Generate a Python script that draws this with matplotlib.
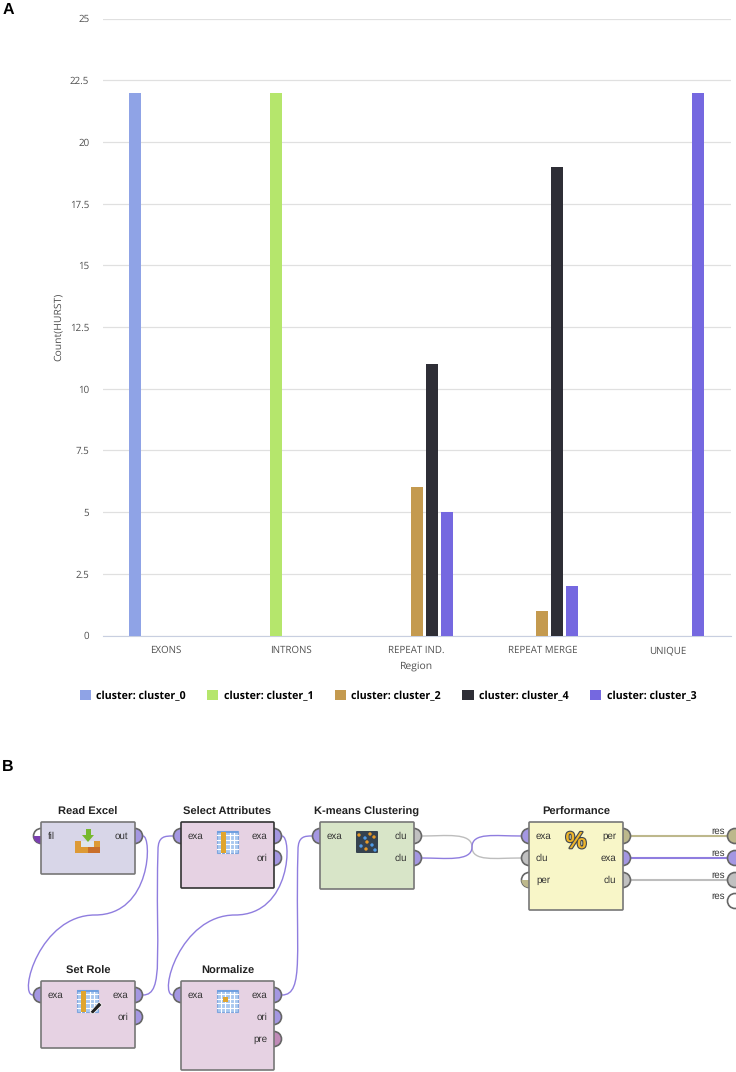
import matplotlib
matplotlib.use("Agg")
import matplotlib.pyplot as plt
import matplotlib.patheffects as pe
from matplotlib.patches import Circle, FancyBboxPatch, PathPatch, Polygon, Rectangle
from matplotlib.path import Path
import numpy as np

# chart data
regions = ["EXONS", "INTRONS", "REPEAT IND.", "REPEAT MERGE", "UNIQUE"]
cluster_names = ["cluster_0", "cluster_1", "cluster_2", "cluster_4", "cluster_3"]
cluster_0 = [22, 0, 0, 0, 0]
cluster_1 = [0, 22, 0, 0, 0]
cluster_2 = [0, 0, 6, 1, 0]
cluster_4 = [0, 0, 11, 19, 0]
cluster_3 = [0, 0, 5, 2, 22]
y_ticks = [0, 2.5, 5, 7.5, 10, 12.5, 15, 17.5, 20, 22.5, 25]
y_labels = ["0", "2.5", "5", "7.5", "10", "12.5", "15", "17.5", "20", "22.5", "25"]
colors = ["#8fa3e6", "#b5e66c", "#c49a4f", "#2e2e36", "#7568e0"]

W, H = 736, 1072
plt.rcParams["text.hinting"] = "no_hinting"
fig = plt.figure(figsize=(W / 100, H / 100), dpi=100)
plt.rcParams["font.family"] = ["Open Sans", "DejaVu Sans"]

# panel A
ax = fig.add_axes([102.5 / W, 1 - 635.5 / H, 628.5 / W, 617 / H])
x = np.arange(len(regions))
series = [cluster_0, cluster_1, cluster_2, cluster_4, cluster_3]
handles = []
for i, values in enumerate(series):
    bars = ax.bar(x + (i - 2) * 0.119, values, width=0.095, color=colors[i], zorder=3,
                  label="cluster: " + cluster_names[i])
    handles.append(bars)
ax.set_xlim(-0.5, 4.5)
ax.set_ylim(0, 25)
ax.set_yticks(y_ticks)
ax.set_yticklabels(y_labels)
ax.set_xticks(x)
ax.set_xticklabels(regions)
ax.tick_params(axis="both", length=0, labelsize=7, labelcolor="#505050")
ax.tick_params(axis="x", pad=7)
ax.tick_params(axis="y", pad=9.5)
ax.grid(axis="y", color="#e0e0e0", lw=0.9, zorder=0)
for s in ["top", "left", "right"]:
    ax.spines[s].set_visible(False)
ax.spines["bottom"].set_color("#c8cfe0")
ax.set_xlabel("Region", fontsize=7.5, color="#505050", labelpad=4)
ax.set_ylabel("Count(HURST)", fontsize=7.5, color="#505050", labelpad=5)
fig.legend(handles=handles, ncol=5, loc="center left", bbox_to_anchor=(70 / W, 1 - 696 / H),
           frameon=False, handlelength=1.05, handleheight=1.05, handletextpad=0.5,
           columnspacing=2.0, prop={"weight": "bold", "size": 7.7})

fig.text(3 / W, 1 - 10 / H, "A", fontsize=11.5, fontweight="bold", family="Liberation Sans", va="center")
fig.text(2 / W, 1 - 767 / H, "B", fontsize=11.5, fontweight="bold", family="Liberation Sans", va="center")

# panel B, drawn in pixel coordinates
canvas = fig.add_axes([0, 0, 1, 1], zorder=-1)
canvas.set_xlim(0, W)
canvas.set_ylim(H, 0)
canvas.axis("off")

PURPLE = "#a497e2"
WIRE = "#8f7ddf"
GRAY = "#bdbdbd"
OLIVE = "#bdb88c"
SANS = "Liberation Sans"

# name, x, y, w, h, fill, input ports, output ports
operators = [
    ("Read Excel", 41, 822, 94, 52, "#d8d6e8", [("fil", "half_purple")], [("out", PURPLE)]),
    ("Select Attributes", 181, 822, 93, 66, "#e6d2e3", [("exa", PURPLE)], [("exa", PURPLE), ("ori", PURPLE)]),
    ("Set Role", 41, 981, 94, 67, "#e6d2e3", [("exa", PURPLE)], [("exa", PURPLE), ("ori", PURPLE)]),
    ("Normalize", 181, 981, 93, 89, "#e6d2e3", [("exa", PURPLE)],
     [("exa", PURPLE), ("ori", PURPLE), ("pre", "#c08ab8")]),
    ("K-means Clustering", 320, 822, 94, 67, "#d8e5c8", [("exa", PURPLE)], [("clu", "#c0c0c0"), ("clu", PURPLE)]),
    ("Performance", 529, 822, 94, 88, "#f8f6c8", [("exa", PURPLE), ("clu", "#c0c0c0"), ("per", "half_olive")],
     [("per", OLIVE), ("exa", PURPLE), ("clu", "#c0c0c0")]),
]

def wire(points, color, lw=1.0):
    codes = [Path.MOVETO] + [Path.CURVE4] * (len(points) - 1)
    canvas.add_patch(PathPatch(Path(points, codes), fc="none", ec=color, lw=lw, zorder=1))

def port(px, py, color):
    if color.startswith("half"):
        fill = "#7b3fb0" if color == "half_purple" else OLIVE
        c = Circle((px, py), 7.5, fc="white", ec="#666666", lw=1.2, zorder=2)
        canvas.add_patch(c)
        r = Rectangle((px - 8, py), 16, 8, fc=fill, ec="none", zorder=2)
        canvas.add_patch(r)
        r.set_clip_path(c)
    else:
        canvas.add_patch(Circle((px, py), 7.5, fc=color, ec="#666666", lw=1.2, zorder=2))

def table_icon(ix, iy, col=None, cell=None):
    canvas.add_patch(Rectangle((ix, iy), 21, 22, fc="#a9c8f0", ec="#7fa6de", lw=0.8, zorder=4))
    canvas.add_patch(Rectangle((ix, iy), 21, 2, fc="#6f9fe0", ec="none", zorder=4))
    for k in range(1, 5):
        canvas.plot([ix + k * 4.2, ix + k * 4.2], [iy + 2, iy + 22], color="white", lw=0.8, zorder=5)
        canvas.plot([ix, ix + 21], [iy + k * 4.4, iy + k * 4.4], color="white", lw=0.8, zorder=5)
    if col is not None:
        canvas.add_patch(Rectangle((ix + col, iy + 1), 4.5, 21, fc="#e0a52e", ec="none", zorder=6))
    if cell is not None:
        canvas.add_patch(Rectangle((ix + cell, iy + 7), 5, 5, fc="#e0a52e", ec="none", zorder=6))

# wires
wire([(143, 836), (152, 836), (152, 915), (95, 915), (40, 915), (18, 995), (33, 995)], WIRE)
wire([(143, 995), (165, 995), (155, 950), (158, 850), (158, 836), (165, 836), (173, 836)], WIRE)
wire([(282, 836), (292, 836), (292, 915), (235, 915), (180, 915), (158, 995), (173, 995)], WIRE)
wire([(282, 995), (305, 995), (295, 950), (298, 850), (298, 836), (305, 836), (312, 836)], WIRE)
wire([(422, 836), (445, 836), (472, 832), (472, 847), (472, 862), (495, 858), (521, 858)], GRAY)
wire([(422, 858), (445, 858), (472, 862), (472, 847), (472, 832), (495, 836), (521, 836)], WIRE)
wire([(631, 836), (660, 836), (700, 836), (727, 836)], OLIVE, 1.5)
wire([(631, 858), (660, 858), (700, 858), (727, 858)], WIRE, 1.5)
wire([(631, 880), (660, 880), (700, 880), (727, 880)], GRAY, 1.5)

# operator boxes with ports and labels
for name, bx, by, bw, bh, fill, inputs, outputs in operators:
    for i, (label, color) in enumerate(inputs):
        port(bx, by + 14 + i * 22, color)
    for i, (label, color) in enumerate(outputs):
        port(bx + bw, by + 14 + i * 22, color)
    edge = "#333333" if name == "Select Attributes" else "#777777"
    canvas.add_patch(FancyBboxPatch((bx, by), bw, bh, boxstyle="round,pad=0,rounding_size=1",
                                    fc=fill, ec=edge, lw=1.2, zorder=3))
    canvas.text(bx + bw / 2, by - 10, name, ha="center", va="center", fontsize=8, fontweight="bold",
                family=SANS, color="#222222", zorder=6)
    for i, (label, color) in enumerate(inputs):
        canvas.text(bx + 7, by + 14 + i * 22, label, ha="left", va="center", fontsize=7, family=SANS,
                    color="#333333", zorder=6)
    for i, (label, color) in enumerate(outputs):
        canvas.text(bx + bw - 7, by + 14 + i * 22, label, ha="right", va="center", fontsize=7, family=SANS,
                    color="#333333", zorder=6)

# result ports on the right edge
res_colors = [OLIVE, PURPLE, "#c0c0c0", "white"]
res_rows = [836, 858, 880, 901]
for yy, cc in zip(res_rows, res_colors):
    port(735, yy, cc)
    canvas.text(725, yy - 5, "res", ha="right", va="center", fontsize=7, family=SANS, color="#333333", zorder=6)

# icons
table_icon(217, 831, col=4)
table_icon(77, 990, col=4)
table_icon(217, 990, cell=6)
canvas.add_patch(Polygon([(90, 1012), (99, 1002), (102, 1005), (93, 1014)], fc="#222222", ec="white", lw=0.5, zorder=7))

canvas.add_patch(Polygon([(75, 841), (81, 841), (81, 847), (94, 847), (94, 841), (100, 841), (100, 853), (75, 853)],
                         fc="#dd9a35", ec="none", zorder=4))
canvas.add_patch(Rectangle((88, 847), 12, 6, fc="#c96f2a", ec="none", zorder=5))
canvas.add_patch(Rectangle((81, 841), 13, 6, fc="#dfe6ee", ec="none", zorder=5))
canvas.add_patch(Rectangle((85.5, 829), 5, 7, fc="#76b82e", ec="none", zorder=6))
canvas.add_patch(Polygon([(82, 835), (94, 835), (88, 842)], fc="#76b82e", ec="none", zorder=6))

canvas.add_patch(FancyBboxPatch((356, 831), 22, 22, boxstyle="round,pad=0,rounding_size=1", fc="#35424f", ec="none", zorder=4))
dots_orange = [(359, 835), (370, 834), (374, 837), (367, 842), (366, 849)]
dots_blue = [(365, 838), (361, 846), (372, 845), (375, 850)]
for dx, dy in dots_orange:
    canvas.add_patch(Circle((dx, dy), 1.7, fc="#e79a26", ec="none", zorder=5))
for dx, dy in dots_blue:
    canvas.add_patch(Circle((dx, dy), 1.7, fc="#4f9be8", ec="none", zorder=5))

canvas.text(576, 842, "%", ha="center", va="center", fontsize=17, fontweight="bold", family=SANS, color="#eeb52a",
            zorder=6, path_effects=[pe.withStroke(linewidth=1.6, foreground="#3f4650")])

fig.savefig("out.png", dpi=100)
